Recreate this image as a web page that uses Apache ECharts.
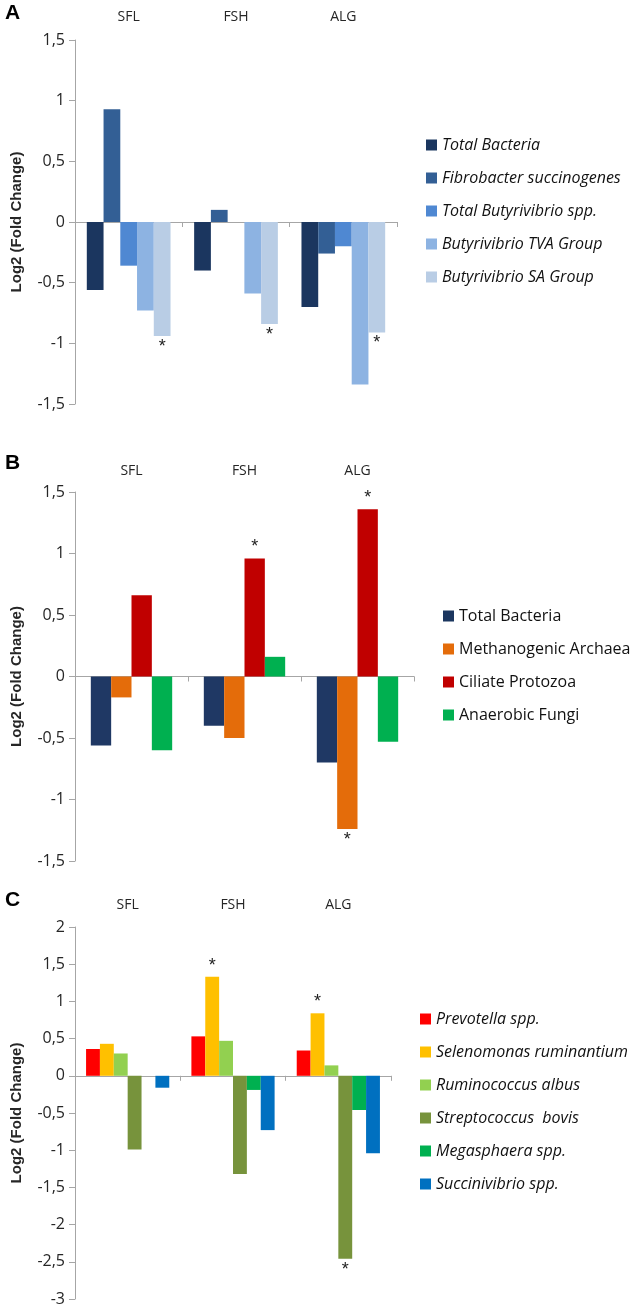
<!DOCTYPE html>
<html><head><meta charset="utf-8">
<script src="https://cdn.jsdelivr.net/npm/echarts@6/dist/echarts.min.js"></script>
<style>html,body{margin:0;padding:0;background:#fff}#c{width:638px;height:1311px}</style>
</head><body><div id="c"></div>
<script>
// ---------- data ----------
const categories = ['SFL', 'FSH', 'ALG'];

// Panel A
const namesA = ['Total Bacteria', 'Fibrobacter succinogenes', 'Total Butyrivibrio spp.', 'Butyrivibrio TVA Group', 'Butyrivibrio SA Group'];
const aTotalBacteria = [-0.56, -0.40, -0.70];
const aFibrobacter = [0.93, 0.10, -0.26];
const aTotalButyrivibrio = [-0.36, 0, -0.20];
const aButyrivibrioTVA = [-0.73, -0.59, -1.34];
const aButyrivibrioSA = [-0.94, -0.84, -0.91];
const starsA = [[0,0,0],[0,0,0],[0,0,0],[0,0,0],[1,1,1]];

// Panel B
const namesB = ['Total Bacteria', 'Methanogenic Archaea', 'Ciliate Protozoa', 'Anaerobic Fungi'];
const bTotalBacteria = [-0.56, -0.40, -0.70];
const bMethanogenicArchaea = [-0.17, -0.50, -1.24];
const bCiliateProtozoa = [0.66, 0.96, 1.36];
const bAnaerobicFungi = [-0.60, 0.16, -0.53];
const starsB = [[0,0,0],[0,0,1],[0,1,1],[0,0,0]];

// Panel C
const namesC = ['Prevotella spp.', 'Selenomonas ruminantium', 'Ruminococcus albus', 'Streptococcus  bovis', 'Megasphaera spp.', 'Succinivibrio spp.'];
const cPrevotella = [0.36, 0.53, 0.34];
const cSelenomonas = [0.43, 1.33, 0.84];
const cRuminococcus = [0.30, 0.47, 0.14];
const cStreptococcus = [-0.99, -1.32, -2.46];
const cMegasphaera = [0, -0.19, -0.46];
const cSuccinivibrio = [-0.16, -0.73, -1.04];
const starsC = [[0,0,0],[0,1,1],[0,0,0],[0,0,1],[0,0,0],[0,0,0]];

const yTicksA = {min: -1.5, max: 1.5, interval: 0.5};
const yTicksB = {min: -1.5, max: 1.5, interval: 0.5};
const yTicksC = {min: -3, max: 2, interval: 0.5};

// ---------- styles ----------
const colorsA = ['#1b365f', '#335f95', '#4f88d2', '#8db3e2', '#b9cde5'];
const colorsB = ['#1f3864', '#e46c0a', '#c00000', '#00b050'];
const colorsC = ['#ff0000', '#ffc000', '#92d050', '#77933c', '#00b050', '#0070c0'];

const FONT = 'Open Sans';
const TXT = '#262626';
const AX = '#a6a6a6';

const grids = [
  {left: 75, top: 40, width: 322, height: 364},
  {left: 75, top: 492, width: 339, height: 369},
  {left: 75, top: 927, width: 316, height: 372}
];
const topMargins = [16, 14, 15];
const gaps = ['22%', '28%', '21%'];

const fmt = v => String(v).replace('.', ',');

const xAxis = [], yAxis = [], series = [];
[yTicksA, yTicksB, yTicksC].forEach((yt, i) => {
  xAxis.push({
    type: 'category', gridIndex: i, data: categories, position: 'bottom',
    axisLine: {onZero: true, lineStyle: {color: AX, width: 1}},
    axisTick: {show: true, length: 5, lineStyle: {color: AX}},
    axisLabel: {show: false}, splitLine: {show: false}, z: 1
  });
  xAxis.push({
    type: 'category', gridIndex: i, data: categories, position: 'top',
    axisLine: {show: false, onZero: false}, axisTick: {show: false},
    axisLabel: {show: true, margin: topMargins[i], fontFamily: FONT, fontSize: 14, color: TXT},
    splitLine: {show: false}
  });
  yAxis.push({
    type: 'value', gridIndex: i, min: yt.min, max: yt.max, interval: yt.interval,
    name: 'Log2 (Fold Change)', nameLocation: 'middle', nameGap: 51,
    nameTextStyle: {fontFamily: 'Liberation Sans', fontWeight: 'bold', fontSize: 15, color: TXT},
    axisLine: {show: true, lineStyle: {color: AX, width: 1}},
    axisTick: {show: true, length: 6, lineStyle: {color: AX}},
    axisLabel: {fontFamily: FONT, fontSize: 16, color: TXT, margin: 10, formatter: fmt},
    splitLine: {show: false}
  });
});

function addPanel(idx, names, arrays, stars, colors) {
  names.forEach((n, s) => {
    series.push({
      type: 'bar', name: n, xAxisIndex: idx * 2, yAxisIndex: idx,
      barGap: '0%', barCategoryGap: gaps[idx],
      itemStyle: {color: colors[s]},
      z: 3,
      data: arrays[s].map((v, k) => ({
        value: v,
        label: {
          show: !!stars[s][k], formatter: '*',
          position: v < 0 ? 'bottom' : 'top', distance: 2,
          fontFamily: 'Liberation Sans', fontSize: 18, color: '#222'
        }
      }))
    });
  });
}
addPanel(0, namesA, [aTotalBacteria, aFibrobacter, aTotalButyrivibrio, aButyrivibrioTVA, aButyrivibrioSA], starsA, colorsA);
addPanel(1, namesB, [bTotalBacteria, bMethanogenicArchaea, bCiliateProtozoa, bAnaerobicFungi], starsB, colorsB);
addPanel(2, namesC, [cPrevotella, cSelenomonas, cRuminococcus, cStreptococcus, cMegasphaera, cSuccinivibrio], starsC, colorsC);

const legendBase = {
  orient: 'vertical', icon: 'rect', itemWidth: 11, itemHeight: 11, itemGap: 17,
  itemStyle: {borderWidth: 0},
  selectedMode: false
};
const legend = [
  Object.assign({}, legendBase, {left: 421, top: 132, data: namesA,
    textStyle: {fontFamily: FONT, fontSize: 16, fontStyle: 'italic', color: '#111'}}),
  Object.assign({}, legendBase, {left: 438, top: 603, data: namesB,
    textStyle: {fontFamily: FONT, fontSize: 16, color: '#111'}}),
  Object.assign({}, legendBase, {left: 415, top: 1006, data: namesC,
    textStyle: {fontFamily: FONT, fontSize: 16, fontStyle: 'italic', color: '#111'}})
];

const letters = [['A', 3], ['B', 453], ['C', 890]];
const graphic = letters.map(([t, y]) => ({
  type: 'text', left: 5, top: y,
  style: {text: t, fontFamily: 'Liberation Sans', fontWeight: 'bold', fontSize: 21, fill: '#000'}
}));

const chart = echarts.init(document.getElementById('c'), null, {renderer: 'canvas'});
chart.setOption({
  animation: false,
  backgroundColor: '#fff',
  grid: grids.map(g => Object.assign({containLabel: false}, g)),
  xAxis, yAxis, series, legend, graphic
});
</script>
</body></html>
